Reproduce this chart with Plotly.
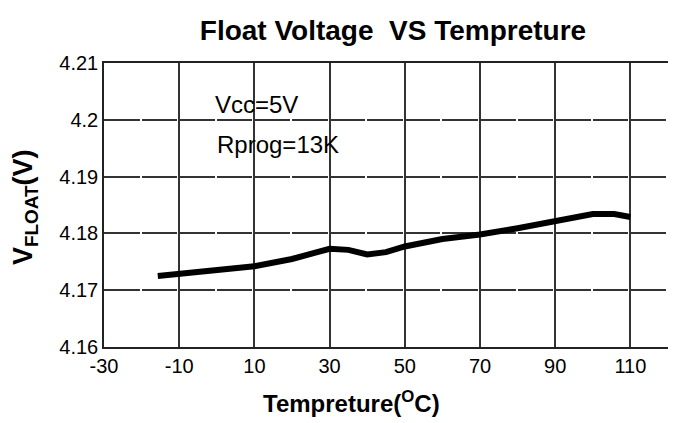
import plotly.graph_objects as go

temps = [-15.7, -10, 0, 10, 20, 30, 35, 40, 45, 50, 60, 70, 80, 90, 100, 105.7, 110]
vfloat = [4.1725, 4.1729, 4.1735, 4.1742, 4.1755, 4.1773, 4.1771, 4.1763, 4.1767, 4.1777,
          4.1790, 4.1798, 4.1809, 4.1822, 4.1834, 4.1834, 4.1829]

x_ticks = [-30, -10, 10, 30, 50, 70, 90, 110]
y_ticks = [4.16, 4.17, 4.18, 4.19, 4.20, 4.21]
y_labels = ["4.16", "4.17", "4.18", "4.19", "4.2", "4.21"]

FONT = "Liberation Sans, Arial, sans-serif"

L, R, T, B = 104, 10, 63, 76
W, H = 678, 423
pw, ph = W - L - R, H - T - B


def px_x(x):
    return (x - L) / pw


def px_y(y):
    return (H - B - y) / ph


fig = go.Figure()
fig.add_trace(go.Scatter(x=temps, y=vfloat, mode="lines",
                         line=dict(color="black", width=6), showlegend=False,
                         hoverinfo="skip"))

fig.update_layout(
    width=W, height=H,
    margin=dict(l=L, r=R, t=T, b=B),
    paper_bgcolor="white", plot_bgcolor="white",
    font=dict(family=FONT, color="black", size=20),
    title=dict(text="<b>Float Voltage  VS Tempreture</b>", x=px_x(393), xref="paper",
               xanchor="center", y=1 - 30 / H, yref="container", yanchor="middle",
               font=dict(family=FONT, size=28, color="black")),
    xaxis=dict(range=[-30, 120], tickvals=x_ticks, ticktext=[str(v) for v in x_ticks],
               showgrid=True, gridcolor="#333333", gridwidth=1.5,
               showline=True, linecolor="#222222", linewidth=1.5, mirror=True,
               zeroline=False, ticks="", tickfont=dict(size=20)),
    yaxis=dict(range=[4.16, 4.21], tickvals=y_ticks, ticktext=y_labels,
               showgrid=True, gridcolor="#333333", gridwidth=1.5, griddash="35.6px,2px",
               showline=True, linecolor="#222222", linewidth=1.5, mirror=False,
               zeroline=False, ticks="", tickfont=dict(size=20)),
)

fig.add_annotation(text="Vcc=5V", x=-1.0, y=4.2027, xref="x", yref="y",
                   xanchor="left", yanchor="middle", showarrow=False,
                   font=dict(size=24, family=FONT))
fig.add_annotation(text="Rprog=13K", x=-0.5, y=4.1957, xref="x", yref="y",
                   xanchor="left", yanchor="middle", showarrow=False,
                   font=dict(size=24, family=FONT))
fig.add_annotation(text="<b>Tempreture(<sup>O</sup>C)</b>", x=px_x(351), y=px_y(402),
                   xref="paper", yref="paper", showarrow=False,
                   xanchor="center", yanchor="middle", font=dict(size=24, family=FONT))
fig.add_annotation(text="<b>V<sub>FLOAT</sub>(V)</b>", x=px_x(25), y=px_y(207),
                   xref="paper", yref="paper", showarrow=False, textangle=-90,
                   xanchor="center", yanchor="middle", font=dict(size=27, family=FONT))

fig.write_html("out.html", config={"displayModeBar": False},
               post_script="document.body.style.margin='0';")
